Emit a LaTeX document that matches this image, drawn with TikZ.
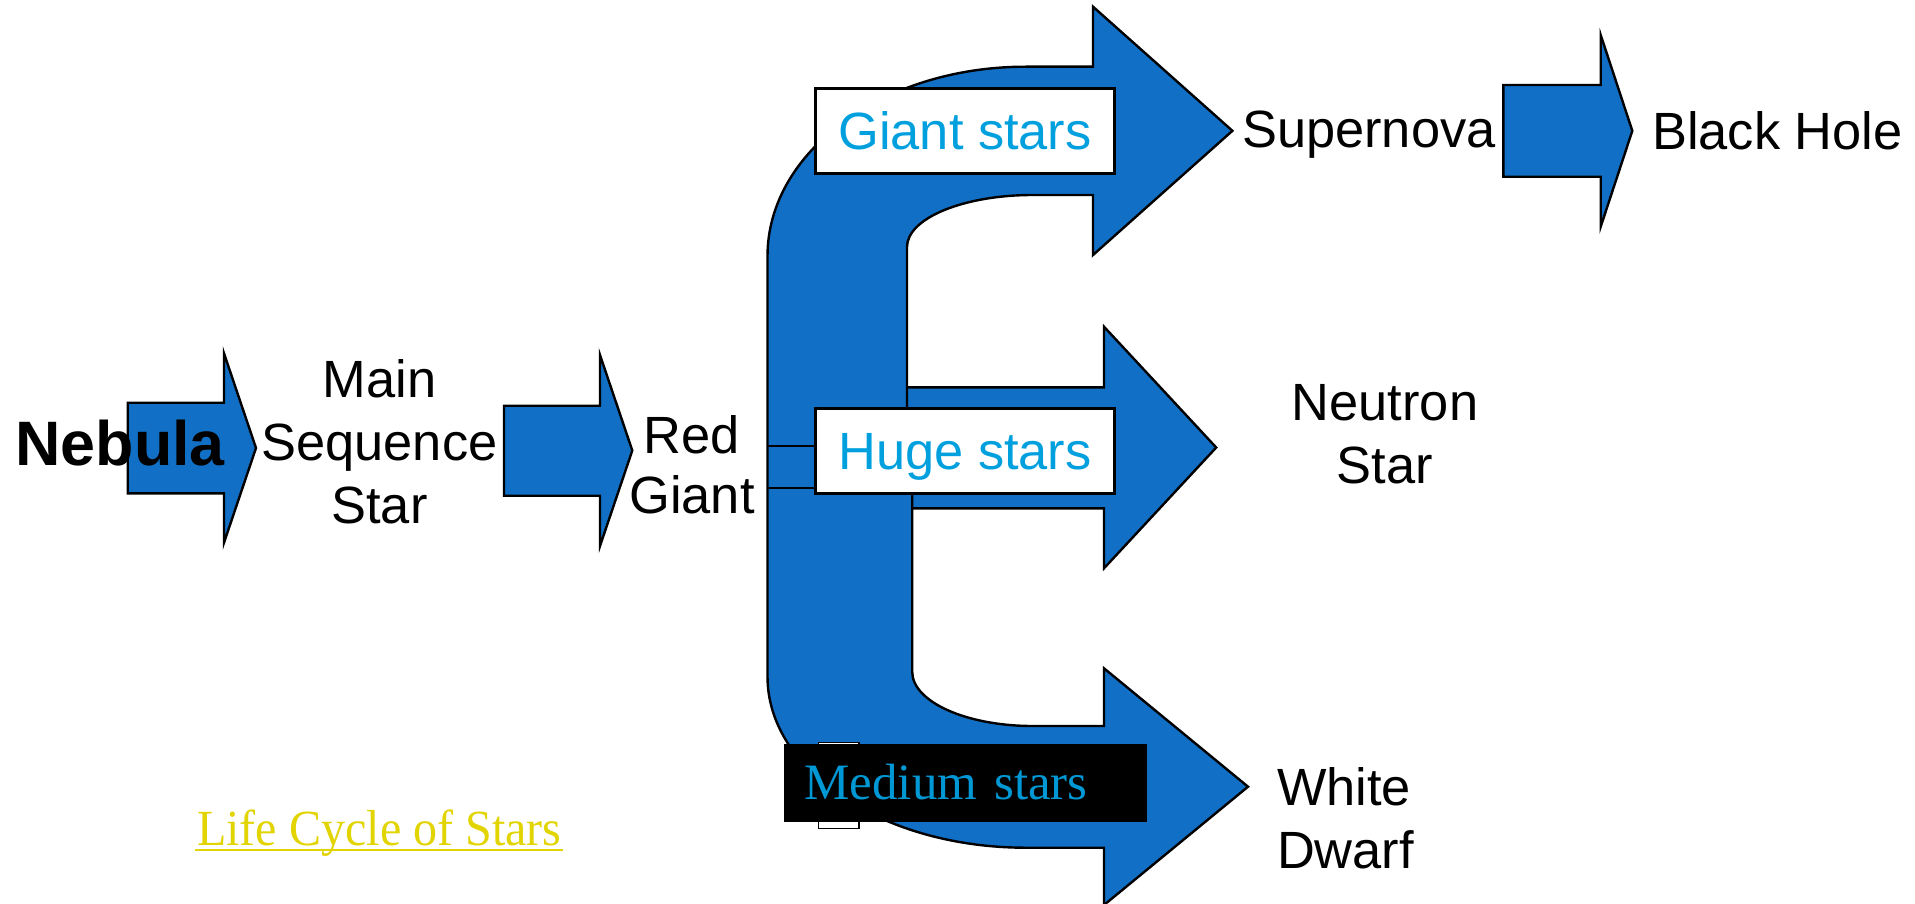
\documentclass[tikz,border=0pt]{standalone}
\usepackage{fontspec}
\usepackage{graphicx}
\newfontfamily\arial{Liberation Sans}
\newfontfamily\tnr{Liberation Serif}
\definecolor{arrowblue}{RGB}{17,112,197}
\definecolor{labelblue}{RGB}{0,160,222}
\definecolor{medblue}{RGB}{0,152,212}
\definecolor{titleyellow}{RGB}{226,212,0}
\begin{document}
\begin{tikzpicture}[x=0.5pt,y=-0.5pt,
  blockarrow/.style={fill=arrowblue,draw=black,line width=1.2pt,line join=miter},
  lbl/.style={font=\arial\fontsize{26.2}{31.5}\selectfont,inner sep=0pt,text=black},
  starbox/.style={draw=black,fill=white,line width=1.3pt,minimum width=149.25pt,
    minimum height=42.5pt,inner sep=0pt,font=\arial\fontsize{26.2}{31.5}\selectfont,
    text=labelblue,text height=18.76pt,text depth=0pt}]
\fill[white] (0,0) rectangle (1915,904);
\useasboundingbox (0,0) rectangle (1915,904);

% huge stars arrow (straight)
\filldraw[blockarrow] (907,387.3) -- (1104,387.3) -- (1104,326.7) -- (1216.2,447.5)
  -- (1104,568.3) -- (1104,508.3) -- (912.2,508.3);
% giant stars arrow (bent upwards)
\filldraw[blockarrow] (767.5,447) -- (767.5,256)
  .. controls (767.5,151.5) and (883.1,66.7) .. (1025.8,66.7)
  -- (1093,66.7) -- (1093,6.7) -- (1232.4,130.8) -- (1093,255) -- (1093,195)
  -- (1032.7,195) .. controls (963.3,195) and (907,218.3) .. (907,247) -- (907,447);
% medium stars arrow (bent downwards)
\filldraw[blockarrow] (912.2,447) -- (912.2,671.7)
  .. controls (912.2,701.7) and (966.1,726) .. (1032.7,726)
  -- (1104,726) -- (1104,668.3) -- (1248,786.7) -- (1104,905) -- (1104,847.7)
  -- (1025.8,847.7) .. controls (883.1,847.7) and (767.5,771.1) .. (767.5,676.7)
  -- (767.5,447);

% small arrows
\filldraw[blockarrow] (127.7,402.7) -- (224,402.7) -- (224,353.3) -- (256,448)
  -- (224,542.7) -- (224,493.3) -- (127.7,493.3) -- cycle;
\filldraw[blockarrow] (504,405.7) -- (600,405.7) -- (600,355) -- (632.3,450.5)
  -- (600,546) -- (600,495.7) -- (504,495.7) -- cycle;
\filldraw[blockarrow] (1503.3,85) -- (1600.7,85) -- (1600.7,35) -- (1632.3,130.8)
  -- (1600.7,226.7) -- (1600.7,176.7) -- (1503.3,176.7) -- cycle;

% boxes
\draw[fill=white,line width=0.7pt] (818.2,742.3) rectangle (859.1,828.3);
\node[fill=black,minimum height=38.85pt,inner xsep=10.15pt,inner ysep=0pt,
  text width=161.15pt,align=left,text=medblue,
  font=\tnr\fontsize{25.5}{30}\selectfont,text height=16.9pt,text depth=0pt]
  (medium) at (965.55,782.85) {Medium stars};
\node[starbox] (giant) at (965,130.8) {Giant stars};
\node[starbox] (huge) at (965,450.8) {Huge stars};
\coordinate (l1) at (767.5,445.7);
\coordinate (l2) at (767.5,487.7);
\draw[line width=1.1pt] (l1) -- (l1 -| huge.west);
\draw[line width=1.1pt] (l2) -- (l2 -| huge.west);

% labels
\node[lbl,anchor=base west,font=\arial\bfseries\fontsize{31.4}{36}\selectfont]
  (nebula) at (15,465) {Nebula};
\node[lbl,align=center] (mss) at (379.5,441.3) {Main\\Sequence\\Star};
\node[lbl,align=center,font=\arial\fontsize{26.2}{30}\selectfont] (rg) at (692,464.3) {Red\\Giant};
\node[lbl,anchor=base west] (sn) at (1241.7,147.5) {Supernova};
\node[lbl,anchor=base west] (bh) at (1651.7,149) {Black Hole};
\node[lbl,align=center] (ns) at (1385,434.6) {Neutron\\Star};
\node[lbl,align=left,anchor=west] (wd) at (1276.7,817.9) {White\\Dwarf};
\node[anchor=base west,inner sep=0pt,font=\tnr\fontsize{25.3}{30}\selectfont,
  text=titleyellow] (title) at (196.7,845.7) {\scalebox{0.95}[1]{Life Cycle of Stars}};
\draw[titleyellow,line width=1.2pt] ([yshift=-2.15pt,xshift=-0.7pt]title.base west)
  -- ([yshift=-2.15pt,xshift=0.3pt]title.base east);
\end{tikzpicture}
\end{document}
